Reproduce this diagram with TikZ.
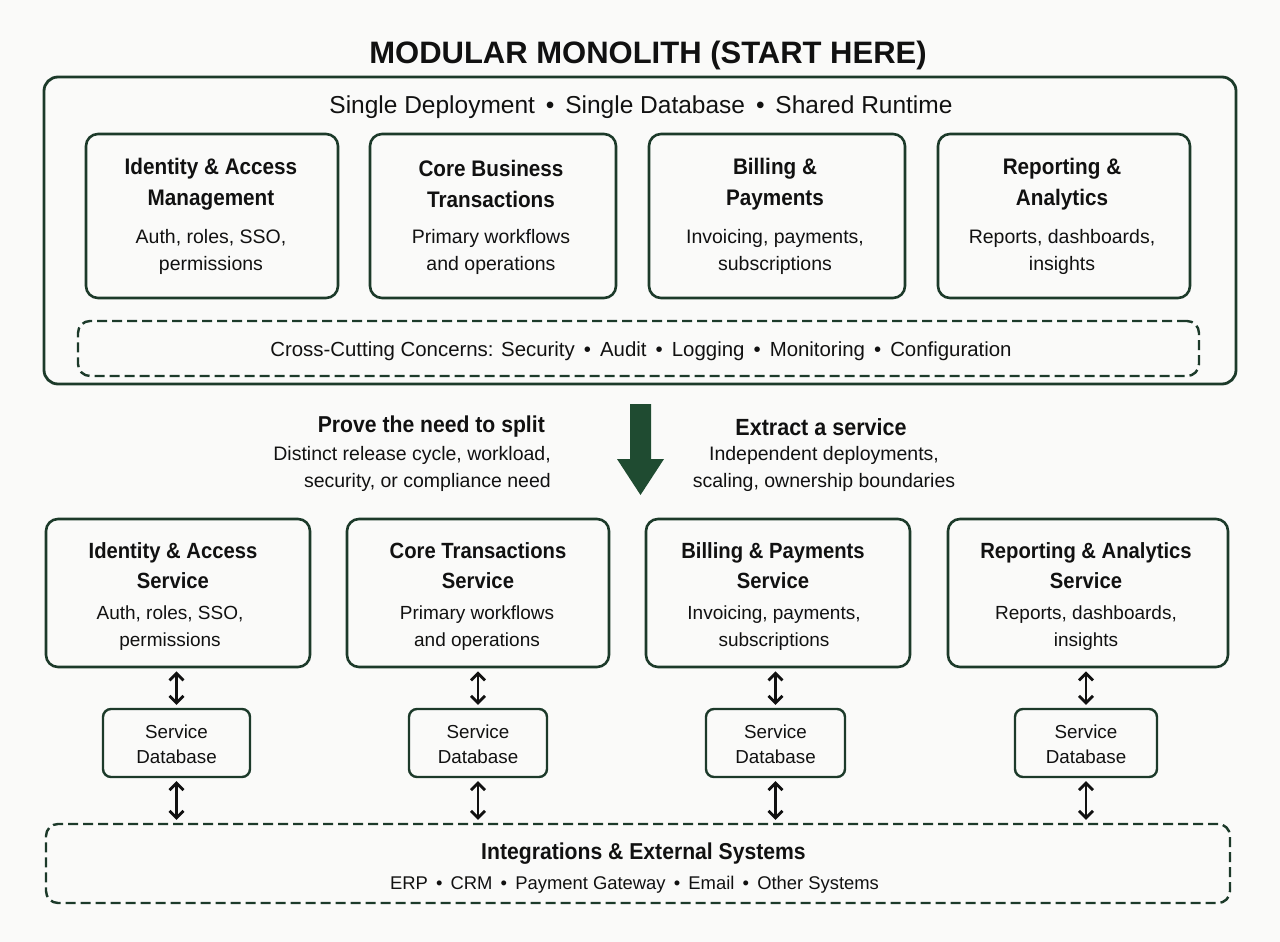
\documentclass[tikz,border=0pt]{standalone}
\usepackage{fontspec}
\setmainfont{Liberation Sans}[BoldFeatures={FakeStretch=0.92}]
\newfontfamily\titlefont{Liberation Sans}
\usetikzlibrary{arrows.meta}
\definecolor{boxgreen}{HTML}{1C3A2A}
\definecolor{arrowgreen}{HTML}{1F4B31}
\definecolor{bgc}{HTML}{FAFAF9}
\definecolor{ink}{HTML}{111111}
\begin{document}
\begin{tikzpicture}[x=1pt,y=-1pt,
  every node/.style={text=ink, inner sep=0pt},
  frame/.style={draw=boxgreen, line width=2.6pt, rounded corners=12pt},
  dframe/.style={draw=boxgreen, line width=2.4pt, rounded corners=12pt, dash pattern=on 10pt off 5pt},
  dbbox/.style={draw=boxgreen, line width=2.4pt, rounded corners=8pt},
  ttl/.style={font=\bfseries\fontsize{22.5}{30.5}\selectfont, align=center},
  bttl/.style={font=\bfseries\fontsize{22}{30}\selectfont, align=center},
  dsc/.style={font=\fontsize{19.5}{27}\selectfont, align=center},
  bdsc/.style={font=\fontsize{19}{27}\selectfont, align=center},
  dbl/.style={draw=ink, line width=2.8pt, {Straight Barb[length=7pt,width=14pt]}-{Straight Barb[length=7pt,width=14pt]}, shorten >=3pt, shorten <=3pt}
]
\fill[bgc] (0,0) rectangle (1280,942);
\useasboundingbox (0,0) rectangle (1280,942);

% title
\node[font=\titlefont\bfseries\fontsize{31}{36}\selectfont] (title) at (648,55) {MODULAR MONOLITH (START HERE)};

% outer monolith box
\node[frame, line width=2.8pt, rounded corners=14pt, minimum width=1192pt, minimum height=307pt] (mono) at (640,230.5) {};
\node[font=\fontsize{24.5}{28}\selectfont] (sub) at (641,107) {Single Deployment \,•\, Single Database \,•\, Shared Runtime};

% module boxes
\node[frame, minimum width=252pt, minimum height=164pt] (t1) at (212,216) {};
\node[frame, minimum width=246pt, minimum height=164pt] (t2) at (493,216) {};
\node[frame, minimum width=256pt, minimum height=164pt] (t3) at (777,216) {};
\node[frame, minimum width=252pt, minimum height=164pt] (t4) at (1064,216) {};

\node[ttl] (t1t) at (211,184) {Identity \& Access\\Management};
\node[dsc] (t1d) at (211,251.5) {Auth, roles, SSO,\\permissions};
\node[ttl] (t2t) at (491,184) {Core Business\\Transactions};
\node[dsc] (t2d) at (491,251.5) {Primary workflows\\and operations};
\node[ttl] (t3t) at (775,184) {Billing \&\\Payments};
\node[dsc] (t3d) at (775,251.5) {Invoicing, payments,\\subscriptions};
\node[ttl] (t4t) at (1062,184) {Reporting \&\\Analytics};
\node[dsc] (t4d) at (1062,251.5) {Reports, dashboards,\\insights};

% cross-cutting
\node[dframe, minimum width=1121pt, minimum height=55pt] (cc) at (638.5,348.5) {};
\node[font=\fontsize{20.4}{24}\selectfont] (cct) at (641,351) {Cross-Cutting Concerns: Security \,•\, Audit \,•\, Logging \,•\, Monitoring \,•\, Configuration};

% transition arrow
\fill[arrowgreen] (630,404) -- (651,404) -- (651,459) -- (664,459) -- (640.5,495) -- (617,459) -- (630,459) -- cycle;

\node[font=\bfseries\fontsize{23}{26}\selectfont, anchor=east] (pt) at (545,427) {Prove the need to split};
\node[dsc, align=right, anchor=east] (pd) at (551,469) {Distinct release cycle, workload,\\security, or compliance need};
\node[font=\bfseries\fontsize{23.4}{26}\selectfont] (et) at (821,427) {Extract a service};
\node[dsc] (ed) at (824,469) {Independent deployments,\\scaling, ownership boundaries};

% service boxes
\node[frame, minimum width=264pt, minimum height=148pt] (s1) at (178,593) {};
\node[frame, minimum width=262pt, minimum height=148pt] (s2) at (478,593) {};
\node[frame, minimum width=264pt, minimum height=148pt] (s3) at (778,593) {};
\node[frame, minimum width=280pt, minimum height=148pt] (s4) at (1088,593) {};

\node[bttl] (s1t) at (173,566) {Identity \& Access\\Service};
\node[bdsc] (s1d) at (170,628.5) {Auth, roles, SSO,\\permissions};
\node[bttl] (s2t) at (478,566) {Core Transactions\\Service};
\node[bdsc] (s2d) at (477,628.5) {Primary workflows\\and operations};
\node[bttl] (s3t) at (773,566) {Billing \& Payments\\Service};
\node[bdsc] (s3d) at (774,628.5) {Invoicing, payments,\\subscriptions};
\node[bttl] (s4t) at (1086,566) {Reporting \& Analytics\\Service};
\node[bdsc] (s4d) at (1086,628.5) {Reports, dashboards,\\insights};

% databases
\node[dbbox, minimum width=147pt, minimum height=68pt] (d1) at (176.5,743) {};
\node[dbbox, minimum width=138pt, minimum height=68pt] (d2) at (478,743) {};
\node[dbbox, minimum width=139pt, minimum height=68pt] (d3) at (775.5,743) {};
\node[dbbox, minimum width=142pt, minimum height=68pt] (d4) at (1086,743) {};
\foreach \d in {d1,d2,d3,d4}{
  \node[font=\fontsize{18.8}{25}\selectfont, align=center] (\d t) at ([yshift=-1.5pt]\d.center) {Service\\Database};
}

% integrations
\node[dframe, minimum width=1184pt, minimum height=79pt] (int) at (638,863.5) {};
\node[font=\bfseries\fontsize{23}{26}\selectfont] (intt) at (643.5,854) {Integrations \& External Systems};
\node[font=\fontsize{18.4}{24}\selectfont] (intd) at (634.5,885) {ERP \,•\, CRM \,•\, Payment Gateway \,•\, Email \,•\, Other Systems};

% connectors
\foreach \i in {1,2,3,4}{
  \draw[dbl] (d\i.north |- s\i.south) -- (d\i.north);
  \draw[dbl] (d\i.south) -- (d\i.south |- int.north);
}
\end{tikzpicture}
\end{document}
